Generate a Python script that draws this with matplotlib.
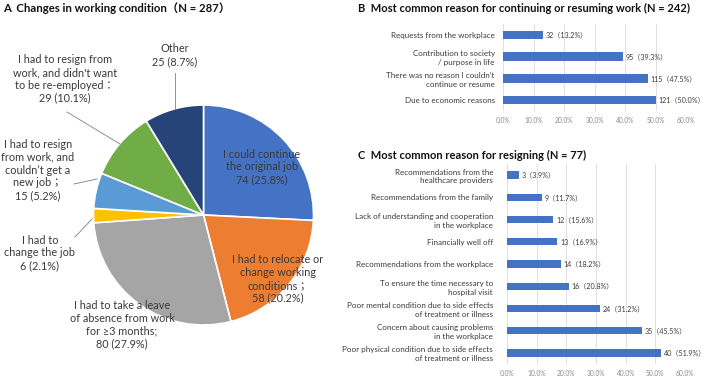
import matplotlib
matplotlib.use("Agg")
import matplotlib.pyplot as plt
from matplotlib.ticker import PercentFormatter

plt.rcParams['font.family'] = ['Lato', 'Noto Sans CJK JP', 'DejaVu Sans']

# ---------------- data ----------------
pie_labels = ["I could continue\nthe original job\n74 (25.8%)",
              "I had to relocate or\nchange working\nconditions；\n58 (20.2%)",
              "I had to take a leave\nof absence from work\nfor ≥3 months;\n80 (27.9%)",
              "I had to\nchange the job\n6 (2.1%)",
              "I had to resign\nfrom work, and\ncouldn’t get a\nnew job；\n15 (5.2%)",
              "I had to resign from\nwork, and didn't want\nto be re-employed：\n29 (10.1%)",
              "Other\n25 (8.7%)"]
pie_counts = [74, 58, 80, 6, 15, 29, 25]
pie_colors = ["#4472C4", "#ED7D31", "#A5A5A5", "#FFC000", "#5B9BD5", "#70AD47", "#264478"]

b_labels = ["Requests from the workplace",
            "Contribution to society\n/ purpose in life",
            "There was no reason I couldn’t\ncontinue or resume",
            "Due to economic reasons"]
b_counts = [32, 95, 115, 121]
b_pct = [13.2, 39.3, 47.5, 50.0]

c_labels = ["Recommendations from the\nhealthcare providers",
            "Recommendations from the family",
            "Lack of understanding and cooperation\nin the workplace",
            "Financially well off",
            "Recommendations from the workplace",
            "To ensure the time necessary to\nhospital visit",
            "Poor mental condition due to side effects\nof treatment or illness",
            "Concern about causing problems\nin the workplace",
            "Poor physical condition due to side effects\nof treatment or illness"]
c_counts = [3, 9, 12, 13, 14, 16, 24, 35, 40]
c_pct = [3.9, 11.7, 15.6, 16.9, 18.2, 20.8, 31.2, 45.5, 51.9]

W, H = 709, 376
fig = plt.figure(figsize=(W / 100, H / 100), dpi=100)

# ---------------- Panel A: pie ----------------
axA = fig.add_axes([0, 0, 354.5 / W, 1])
wedges, _ = axA.pie(pie_counts, colors=pie_colors, startangle=90, counterclock=False,
                    center=(203.5, H - 215), radius=110,
                    wedgeprops=dict(edgecolor="white", linewidth=1.2))
axA.set_xlim(0, 354.5)
axA.set_ylim(0, H)
axA.axis("off")

txtc = "#3a3a3a"
fs = 7.8
def lab(x, y, s):
    axA.text(x, H - y, s, ha="center", va="center", fontsize=fs, color=txtc, linespacing=1.2)

lab(262, 167, pie_labels[0])
lab(278, 279, pie_labels[1])
lab(122, 325, pie_labels[2])
lab(40, 253, pie_labels[3])
lab(38, 170, pie_labels[4])
lab(65, 79, pie_labels[5])
lab(175, 55, pie_labels[6])

lc = "#7f7f7f"
for (x1, y1), (x2, y2) in [((175, 73), (175, 109)),
                           ((67, 112), (120, 144)),
                           ((74, 184), (97, 179)),
                           ((75, 237), (92, 219))]:
    axA.plot([x1, x2], [H - y1, H - y2], color=lc, lw=0.6)

fig.text(3 / W, 1 - 8 / H, "A  Changes in working condition（N = 287）", fontsize=8.2,
         fontweight="bold", va="center", ha="left", color="#111111")
fig.text(358 / W, 1 - 8 / H, "B  Most common reason for continuing or resuming work (N = 242)",
         fontsize=8, fontweight="bold", va="center", ha="left", color="#111111")
fig.text(358 / W, 1 - 155 / H, "C  Most common reason for resigning (N = 77)",
         fontsize=8, fontweight="bold", va="center", ha="left", color="#111111")

# ---------------- bar panels ----------------
def barpanel(rect, labels, counts, pct, height, pad):
    ax = fig.add_axes(rect)
    y = list(range(len(labels)))
    ax.barh(y, pct, height=height, color="#4472C4", zorder=3)
    for yi, c, p in zip(y, counts, pct):
        ax.annotate(f"{c}（{p:.1f}%）", (p, yi), xytext=(2, 0), textcoords="offset points",
                    va="center", ha="left", fontsize=5.1, color=txtc)
    ax.set_yticks(y)
    ax.set_yticklabels(labels, fontsize=5.8, color=txtc, linespacing=1.3)
    ax.set_ylim(len(labels) - 0.5, -0.5)
    ax.set_xlim(0, 60)
    ax.set_xticks(range(0, 61, 10))
    ax.xaxis.set_major_formatter(PercentFormatter(decimals=1))
    ax.tick_params(axis="x", labelsize=4.8, colors="#8c8c8c", length=0, pad=4)
    ax.tick_params(axis="y", length=0, pad=pad)
    ax.grid(axis="x", color="#d9d9d9", lw=0.6, zorder=0)
    for s in ax.spines.values():
        s.set_visible(False)
    return ax

barpanel([503 / W, 1 - 111 / H, 183 / W, 87 / H], b_labels, b_counts, b_pct, 0.38, 6)
barpanel([507 / W, 1 - 364 / H, 178 / W, 200 / H], c_labels, c_counts, c_pct, 0.33, 10)

fig.savefig("out.png", dpi=100)
